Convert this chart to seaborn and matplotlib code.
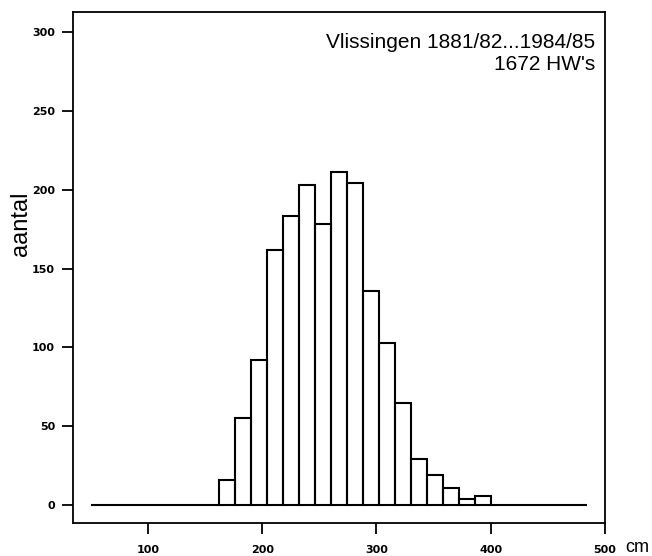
import numpy as np
import pandas as pd
import matplotlib
matplotlib.use("Agg")
import matplotlib.pyplot as plt
import seaborn as sns

# ---- data ----
bin_edges = list(range(50, 485, 14))          # 14 cm bins, 50 ... 484 cm
counts = [0, 0, 0, 0, 0, 0, 0, 0,
          16, 55, 92, 162, 183, 203, 178, 211, 204,
          136, 103, 65, 29, 19, 11, 4, 6,
          0, 0, 0, 0, 0, 0]
x_ticks = [100, 200, 300, 400, 500]
y_ticks = [0, 50, 100, 150, 200, 250, 300]
title_line1 = "Vlissingen 1881/82...1984/85"
title_line2 = "1672 HW's"
y_label = "aantal"
x_unit = "cm"

centers = [(bin_edges[i] + bin_edges[i + 1]) / 2 for i in range(len(counts))]
df = pd.DataFrame({"hw": centers, "n": counts})

sns.set_style("ticks")
plt.rcParams["font.family"] = ["Liberation Sans", "DejaVu Sans"]
for k in ["text.color", "axes.labelcolor", "xtick.color", "ytick.color",
          "axes.edgecolor"]:
    plt.rcParams[k] = "black"

W, H = 652, 556
fig = plt.figure(figsize=(W / 100, H / 100), dpi=100)
L, R, T, B = 73, 605, 12, 523
ax = fig.add_axes([L / W, 1 - B / H, (R - L) / W, (B - T) / H])

sns.histplot(data=df, x="hw", weights="n", bins=bin_edges, fill=False,
             color="black", linewidth=1.5, ax=ax)

ax.set_xlim(34.4, 500)
ax.set_ylim(-11.4, 312.7)
ax.set_xticks(x_ticks)
ax.set_yticks(y_ticks)
ax.set_xlabel("")
ax.set_ylabel("")
for s in ax.spines.values():
    s.set_visible(True)
    s.set_linewidth(1.3)
    s.set_color("black")
ax.tick_params(axis="both", direction="out", length=8, width=1.3, color="black",
               labelsize=8)
ax.tick_params(axis="x", pad=8)
ax.tick_params(axis="y", pad=5)
for lab in ax.get_xticklabels() + ax.get_yticklabels():
    lab.set_fontweight("bold")
    lab.set_family("DejaVu Sans")

fig.text(595 / W, 1 - 48 / H, title_line1, ha="right", va="baseline", fontsize=15)
fig.text(595 / W, 1 - 70 / H, title_line2, ha="right", va="baseline", fontsize=15)
fig.text(21 / W, 1 - 224 / H, y_label, rotation=90, ha="center", va="center", fontsize=17)
fig.text(625 / W, 1 - 552 / H, x_unit, ha="left", va="baseline", fontsize=13)

fig.savefig("out.png", dpi=100)
